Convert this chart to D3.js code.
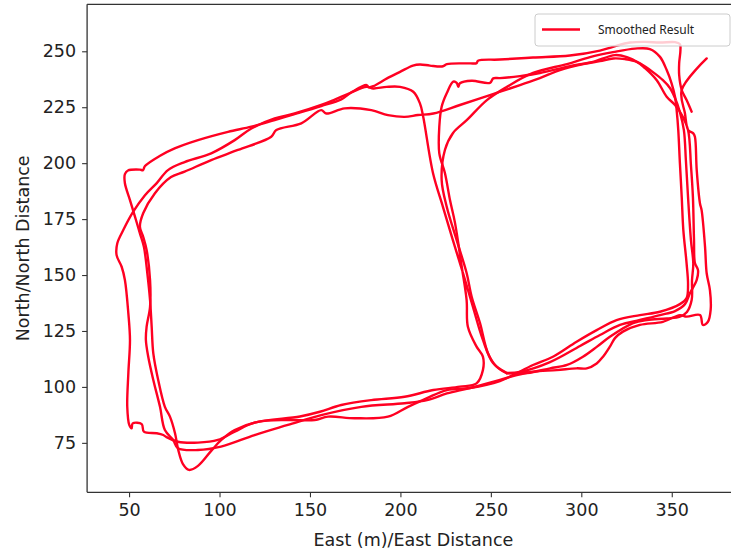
<!DOCTYPE html>
<html>
<head>
<meta charset="utf-8">
<script src="https://cdn.jsdelivr.net/npm/d3@7"></script>
<style>
  html, body { margin: 0; padding: 0; background: #fff; }
  svg { display: block; }
</style>
</head>
<body>
<div id="chart"></div>
<script>
// ---- Data (East, North) in metres ----
const lap1East = [361.0,358.2,355.5,354.1,354.1,354.8,354.5,351.8,343.5,335.2,326.9,317.5,310.3,293.7,273.3,255.0,242.9,242.1,238.4,225.7,223.5,216.3,210.8,206.9,199.8,192.6,185.0,182.6,181.3,173.2,167.3,156.2,141.5,130.5,117.6,104.7,88.1,75.2,66.9,58.8,57.7,56.0,49.4,47.7,47.7,50.5,53.3,56.0,58.2,60.1,61.6,62.5,63.4,66.1,69.8,72.6,75.4,77.2,79.8,83.1,88.1,95.4,101.0,108.4,121.3,137.8,152.6,160.0,174.7,193.1,204.2,214.7,225.7,238.4,255.0,262.2,273.3,284.3,297.4,308.5,319.5,332.4,343.5,354.5,358.2,359.0,358.2,356.4,355.5,354.5,353.6,352.7,351.8,349.9,347.2,343.5,337.9,329.7,317.5,304.8,292.1,273.3,258.9,247.8,236.8,229.0,224.6,222.8,225.6,231.1,236.6,239.4,244.0,248.4,253.2,258.7];
const lap1North = [223.0,228.2,232.7,239.4,244.7,250.5,253.2,254.1,253.9,254.2,253.9,252.0,250.3,248.1,247.2,246.3,245.8,244.7,244.6,244.3,243.3,243.6,244.1,243.6,240.8,237.9,234.4,233.9,234.9,231.8,228.5,225.5,221.9,219.3,216.3,214.0,210.3,206.6,203.2,198.7,196.9,197.1,196.7,195.1,191.0,183.5,176.0,168.6,162.6,150.8,138.8,126.9,115.0,103.1,91.1,86.7,79.3,71.8,65.5,62.9,64.7,71.4,76.3,80.7,84.4,85.2,85.2,86.7,86.0,86.7,91.1,95.0,98.6,99.5,102.6,105.3,109.8,113.5,120.2,125.4,129.9,132.1,133.6,137.0,139.7,145.5,155.2,170.1,185.0,200.0,214.8,223.7,229.7,235.7,241.6,247.5,251.0,251.2,249.6,247.4,244.3,240.3,234.1,228.2,219.3,213.4,205.9,192.4,180.5,165.6,150.9,140.3,128.5,115.1,109.0,106.1];

const lap2East = [258.7,270.0,282.7,292.1,300.9,308.7,315.8,328.6,336.3,347.3,354.5,358.4,361.0,361.2,361.9,360.6,359.0,357.8,356.7,354.5,351.8,349.0,345.1,339.6,332.4,325.2,318.6,306.4,293.7,277.1,266.1,255.0,251.3,249.5,239.4,232.9,232.0,231.1,229.2,225.6,222.8,221.5,221.5,224.6,227.4,230.2,233.9,236.6,237.3,242.1,245.6,245.6,242.1,232.9,218.2,202.3,183.9,167.3,155.5,144.5,119.4,108.4,99.1,88.1,77.0,70.4,68.9,65.3,58.2,57.0,52.0,51.4,50.1,49.0,49.6,50.5,49.6,47.7,45.9,43.1,43.5,46.8,52.3,58.8,65.3,71.5,80.7,95.4,108.4,117.6,130.5,141.5,156.2,163.7,172.1,181.3,185.0,192.4,199.8,207.1,210.8,212.6,218.0,223.5,229.0,234.6,240.1,245.6,251.2,258.9];
const lap2North = [106.1,106.2,108.3,109.8,113.5,118.0,122.4,128.5,129.9,130.6,131.4,133.5,138.8,147.8,155.2,165.6,184.8,201.4,214.8,222.8,229.1,233.6,237.1,240.7,244.6,247.4,248.3,245.3,243.4,240.3,238.9,238.0,237.9,235.9,236.8,235.7,234.1,235.9,236.4,231.2,225.2,216.3,204.4,195.6,183.5,173.2,153.7,138.8,126.9,118.0,113.5,107.5,101.6,100.1,98.6,95.6,94.1,91.9,88.9,86.8,84.0,80.0,76.3,75.1,75.5,77.7,78.5,79.3,80.0,83.4,83.7,81.5,83.0,91.1,106.1,121.0,132.9,147.8,153.7,158.9,164.2,170.1,178.3,185.7,191.1,196.9,200.5,204.4,210.3,215.5,220.0,222.2,226.0,228.4,231.3,234.1,233.4,234.1,234.1,231.9,226.7,220.7,195.6,180.5,165.6,150.9,135.7,121.0,110.7,106.2];

const lap3East = [258.9,266.1,282.7,299.3,310.3,321.4,332.4,343.5,351.8,357.3,360.1,363.8,364.5,362.8,362.3,361.7,360.6,359.0,355.6,351.8,347.2,341.7,335.2,330.6,324.1,317.7,310.3,301.1,288.2,277.1,266.1,249.5,232.9,218.2,209.7,202.3,193.1,183.9,169.2,159.0,156.2,145.2,131.4,128.6,110.2,95.4,80.7,73.2,64.3,57.8,56.0,57.8,59.7,61.6,61.6,59.7,59.3,60.6,63.4,67.1,69.8,74.4,77.0,88.1,100.8,119.4,137.8,156.2,178.4,202.3,214.7,225.7,238.4,255.0,264.3,273.3,286.4,297.4,303.0,308.5,312.0,315.8,318.6,323.0,332.4,345.1,354.5,358.2,365.6,367.2,370.0,371.5,371.1,369.3,368.4,366.5,365.6,363.8,362.8,361.9,359.1,357.3,355.5,369.3];
const lap3North = [106.2,106.7,111.1,118.3,123.2,127.7,129.9,132.1,133.9,137.0,142.0,147.8,152.2,155.4,165.6,184.8,199.1,214.8,221.5,226.0,229.7,237.1,242.5,245.3,246.5,246.8,245.6,244.3,241.6,238.0,234.9,230.4,226.0,222.2,221.5,220.7,221.5,223.7,224.5,222.2,223.7,217.8,214.8,211.8,205.9,201.4,196.2,193.8,186.6,177.6,171.6,167.1,161.2,147.8,135.8,126.9,121.0,113.5,103.1,91.1,80.7,76.3,72.6,71.8,73.3,78.5,83.0,87.4,91.1,92.7,94.1,97.1,99.5,103.1,105.3,106.8,107.5,108.3,108.3,110.5,113.5,118.0,121.8,124.7,127.7,129.1,132.1,131.4,132.1,127.7,129.1,134.4,143.3,150.8,162.6,179.0,182.0,196.9,211.8,213.3,214.8,222.2,232.7,246.8];

const xTicks = [50, 100, 150, 200, 250, 300, 350];
const yTicks = [75, 100, 125, 150, 175, 200, 225, 250];
const xDomain = [26.8, 388];
const yDomain = [52.9, 271];
const xLabel = "East (m)/East Distance";
const yLabel = "North/North Distance";
const legendLabel = "Smoothed Result";

// ---- Layout ----
const W = 731, H = 554;
const plot = { left: 87.1, right: 740.5, top: 4.3, bottom: 492.3 };
const red = "#ff0022";
const font = "'DejaVu Sans', sans-serif";

const svg = d3.select("#chart").append("svg").attr("width", W).attr("height", H);

const x = d3.scaleLinear().domain(xDomain).range([plot.left, plot.right]);
const y = d3.scaleLinear().domain(yDomain).range([plot.bottom, plot.top]);

svg.append("clipPath").attr("id", "clip").append("rect")
  .attr("x", plot.left).attr("y", plot.top)
  .attr("width", plot.right - plot.left).attr("height", plot.bottom - plot.top);

const laps = [
  d3.zip(lap1East, lap1North),
  d3.zip(lap2East, lap2North),
  d3.zip(lap3East, lap3North)
];

const line = d3.line().x(d => x(d[0])).y(d => y(d[1])).curve(d3.curveCatmullRom.alpha(0.5));

svg.append("g").attr("clip-path", "url(#clip)")
  .selectAll("path").data(laps).join("path")
  .attr("d", line)
  .attr("fill", "none")
  .attr("stroke", red)
  .attr("stroke-width", 2.4)
  .attr("stroke-linejoin", "round")
  .attr("stroke-linecap", "round");

// Axes
const xAxis = d3.axisBottom(x).tickValues(xTicks).tickSize(5).tickPadding(6).tickFormat(d3.format("d"));
const yAxis = d3.axisLeft(y).tickValues(yTicks).tickSize(5).tickPadding(6).tickFormat(d3.format("d"));

const gx = svg.append("g").attr("transform", `translate(0,${plot.bottom})`).call(xAxis);
const gy = svg.append("g").attr("transform", `translate(${plot.left},0)`).call(yAxis);

[gx, gy].forEach(g => {
  g.select(".domain").remove();
  g.selectAll(".tick line").attr("stroke", "#333").attr("stroke-width", 1.1);
  g.selectAll(".tick text").attr("fill", "#222").attr("font-family", font).attr("font-size", 17.5);
});

// Spines (left, bottom, top; right lies outside the window)
svg.append("line").attr("x1", plot.left).attr("x2", plot.left).attr("y1", plot.top).attr("y2", plot.bottom)
  .attr("stroke", "#333").attr("stroke-width", 1.3);
svg.append("line").attr("x1", plot.left).attr("x2", plot.right).attr("y1", plot.bottom).attr("y2", plot.bottom)
  .attr("stroke", "#333").attr("stroke-width", 1.3);
svg.append("line").attr("x1", plot.left).attr("x2", plot.right).attr("y1", plot.top).attr("y2", plot.top)
  .attr("stroke", "#333").attr("stroke-width", 1.3);

// Axis titles
svg.append("text").attr("x", (x(50) + x(350)) / 2 + 13).attr("y", 546)
  .attr("text-anchor", "middle").attr("font-family", font).attr("font-size", 17.5).attr("fill", "#222")
  .text(xLabel);
svg.append("text").attr("transform", `translate(29,${(plot.top + plot.bottom) / 2}) rotate(-90)`)
  .attr("text-anchor", "middle").attr("font-family", font).attr("font-size", 17.5).attr("fill", "#222")
  .text(yLabel);

// Legend
const lg = svg.append("g");
lg.append("rect").attr("x", 535).attr("y", 14).attr("width", 195).attr("height", 32).attr("rx", 3)
  .attr("fill", "#fff").attr("fill-opacity", 0.8).attr("stroke", "#ccc").attr("stroke-width", 1);
lg.append("line").attr("x1", 542).attr("x2", 580).attr("y1", 29.5).attr("y2", 29.5)
  .attr("stroke", red).attr("stroke-width", 2.4);
lg.append("text").attr("x", 598).attr("y", 34).attr("font-family", "'Noto Sans', 'Open Sans', sans-serif")
  .attr("font-size", 12).attr("fill", "#222").text(legendLabel);
</script>
</body>
</html>
